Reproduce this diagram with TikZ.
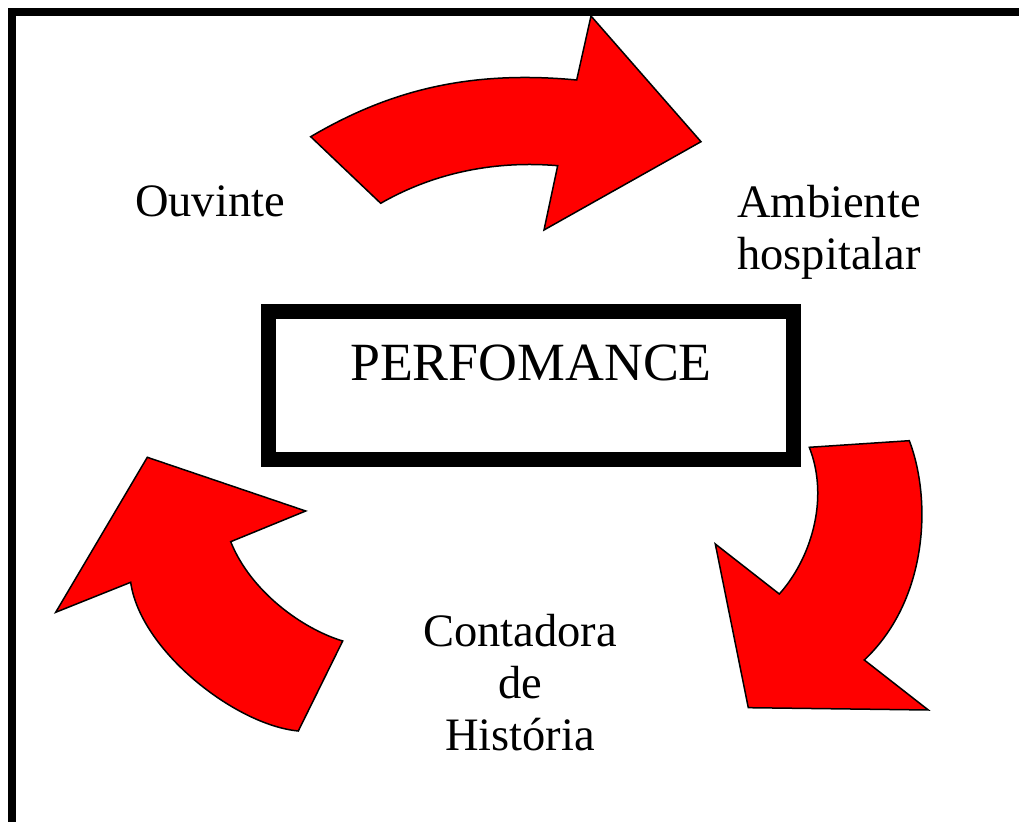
\documentclass[tikz,border=0pt]{standalone}
\usepackage{fontspec}
\setmainfont{Liberation Serif}
\usepackage{tikz}

\tikzset{
  bigarrow/.style={fill=red, draw=black, line width=0.75pt, line join=miter},
  lbl/.style={inner sep=0pt, align=center, font=\fontsize{23.25}{26}\selectfont}
}

\begin{document}
\begin{tikzpicture}[x=0.5pt,y=-0.5pt]
        \useasboundingbox (0,0) rectangle (1019,822);
        % Draw frame (left and top side only)
        \draw[line width=4pt] (12,830) -- (12,12) -- (1030,12);
        % Draw central box
        \node[draw, line width=7.5pt, minimum width=262.5pt, minimum height=74pt, inner sep=0pt] (box) at (530.5,386) {};
        \node[inner sep=0pt, anchor=base, font=\fontsize{26.9}{30}\selectfont] (perf) at (531,381) {PERFOMANCE};
        % Add the three labels
        \node[lbl, anchor=base] (ouvinte) at (210,217) {Ouvinte};
        \node[lbl, anchor=north] (ambiente) at (829,185) {Ambiente\\hospitalar};
        \node[lbl, anchor=north] (contadora) at (520,614) {Contadora\\de\\História};
        % Draw the curved arrows
        \draw[bigarrow] (310.7,136.7) .. controls (390,90) and (470,70) .. (576.7,80)
            -- (591,16) -- (701,141.7) -- (544,230) -- (557.7,165.7)
            .. controls (490,160) and (430,175) .. (380.7,203.3) -- cycle;
        \draw[bigarrow] (809.3,447.3) -- (909.3,440.7)
            .. controls (932,500) and (928,600) .. (864.3,660)
            -- (928.3,710) -- (748.3,707.7) -- (715.3,544) -- (779.3,594)
            .. controls (810,560) and (830,500) .. (809.3,447.3) -- cycle;
        \draw[bigarrow] (147.3,457.3) -- (305.7,511) -- (230.7,541.7)
            .. controls (250.7,591.7) and (302.7,629) .. (342.7,641)
            -- (298.3,731) .. controls (235,725) and (140,650) .. (130.7,582.3)
            -- (55.7,612.3) -- cycle;
    \end{tikzpicture}
\end{document}
